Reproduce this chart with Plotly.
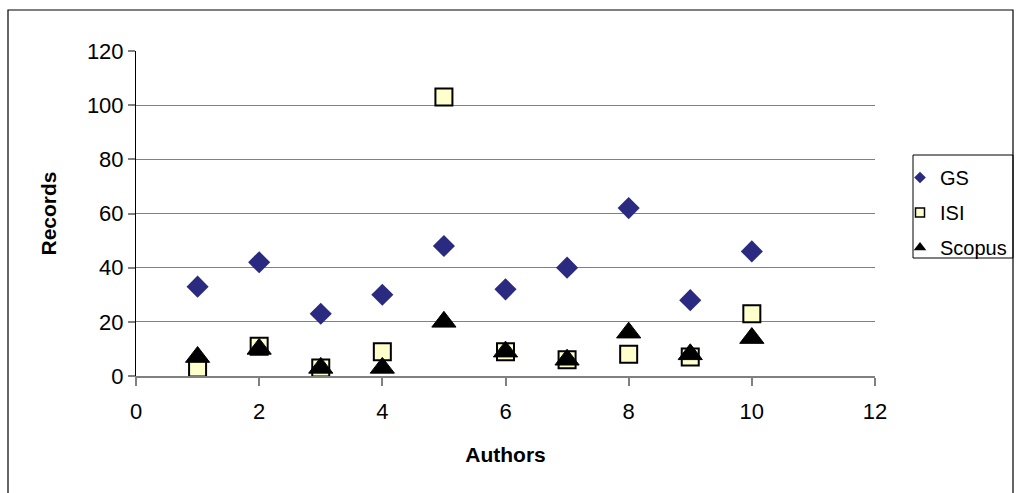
import plotly.graph_objects as go

authors = [1, 2, 3, 4, 5, 6, 7, 8, 9, 10]
gs = [33, 42, 23, 30, 48, 32, 40, 62, 28, 46]
isi = [3, 11, 3, 9, 103, 9, 6, 8, 7, 23]
scopus = [7, 10, 3, 3, 20, 9, 6, 16, 8, 14]
series_names = ["GS", "ISI", "Scopus"]
x_ticks = [0, 2, 4, 6, 8, 10, 12]
y_ticks = [0, 20, 40, 60, 80, 100, 120]

FONT = "Arial, Liberation Sans, sans-serif"
PW, PH, L, T = 739, 325, 136, 51

fig = go.Figure()
fig.add_trace(go.Scatter(x=authors, y=gs, mode="markers", name=series_names[0], showlegend=False,
                         marker=dict(symbol="diamond", size=17, color="#2A2A80", line=dict(width=0))))
fig.add_trace(go.Scatter(x=authors, y=isi, mode="markers", name=series_names[1], showlegend=False,
                         marker=dict(symbol="square", size=17, color="#FFFFCC", line=dict(width=2, color="black"))))
fig.add_trace(go.Scatter(x=authors, y=scopus, mode="markers", name=series_names[2], showlegend=False,
                         marker=dict(symbol="triangle-up", size=21, color="black", line=dict(width=1, color="black"))))

# legend-only entries with small markers
fig.add_trace(go.Scatter(x=[None], y=[None], mode="markers", name=series_names[0], legendgroup="a",
                         marker=dict(symbol="diamond", size=9, color="#2A2A80")))
fig.add_trace(go.Scatter(x=[None], y=[None], mode="markers", name=series_names[1], legendgroup="b",
                         marker=dict(symbol="square", size=9, color="#FFFFCC", line=dict(width=1.5, color="black"))))
fig.add_trace(go.Scatter(x=[None], y=[None], mode="markers", name=series_names[2], legendgroup="c",
                         marker=dict(symbol="triangle-up", size=11, color="black")))

fig.update_layout(
    width=1016, height=493,
    margin=dict(l=L, r=1016 - L - PW, t=T, b=493 - T - PH, autoexpand=False),
    paper_bgcolor="white", plot_bgcolor="white",
    font=dict(family=FONT, size=22, color="black"),
    showlegend=True,
    legend=dict(x=(900 - L) / PW, y=(376 - 158) / PH, xanchor="left", yanchor="top",
                borderwidth=0, bgcolor="rgba(0,0,0,0)",
                font=dict(size=20), itemwidth=30, tracegroupgap=6),
    xaxis=dict(range=[0, 12], tickvals=x_ticks, showgrid=False, zeroline=False,
               showline=True, linecolor="#808080", linewidth=1.5,
               ticks="outside", ticklen=8, tickcolor="#808080", tickwidth=1.5,
               ticklabelstandoff=7,
               title=dict(text="<b>Authors</b>", standoff=24, font=dict(size=21))),
    yaxis=dict(range=[0, 120], tickvals=y_ticks, showgrid=True, gridcolor="#808080", gridwidth=1.3,
               zeroline=False, showline=True, linecolor="black", linewidth=1,
               ticks="outside", ticklen=7, tickcolor="#808080", tickwidth=1.5,
               title=dict(text="<b>Records</b>", standoff=24, font=dict(size=21))),
)

# legend box
fig.add_shape(type="rect", xref="paper", yref="paper",
              x0=(913 - L) / PW, x1=(1013 - L) / PW,
              y0=(376 - 258) / PH, y1=(376 - 155) / PH,
              line=dict(color="black", width=1), fillcolor="white", layer="below")

# outer chart border
fig.add_shape(type="rect", xref="paper", yref="paper",
              x0=(8 - L) / PW, x1=(1013 - L) / PW,
              y0=(376 - 520) / PH, y1=(376 - 10) / PH,
              line=dict(color="black", width=1.2), fillcolor="rgba(0,0,0,0)", layer="below")

fig.write_html("out.html")
